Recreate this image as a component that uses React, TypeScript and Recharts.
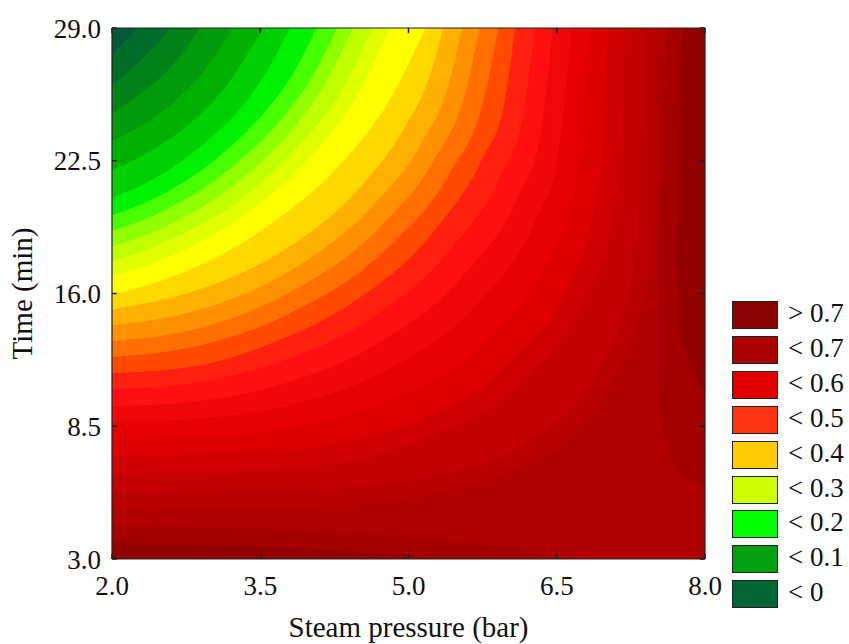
import React from "react";
import { ComposedChart, Area, XAxis, YAxis, ReferenceLine, Label } from "recharts";

const FONT = "'Liberation Serif', 'Times New Roman', serif";

// axis ticks (y is drawn on an evenly spaced coded axis 0..4)
const xTicks = [2, 3.5, 5, 6.5, 8];
const yTicks = [0, 1, 2, 3, 4];
const yTickLabels = ["3.0", "8.5", "16.0", "22.5", "29.0"];

// band in the top-left corner (lowest values)
const cornerColor = "#005A38";

// fill colour of the region below / right of each contour
const arcColors = [
  "#006C2A", "#008218", "#009A0A", "#00B200", "#00D000", "#00F200",
  "#48FF00", "#90FF00", "#C0FF00", "#E2FF00", "#FFFF00", "#FFD800",
  "#FFB000", "#FF9000", "#FF7000", "#FF4A00", "#FF2010", "#FF1010",
  "#F00808", "#E60000", "#DC0000", "#D00000", "#C40000", "#B80000",
  "#B00000",
];

// contour lines [steam pressure, coded time], read from left edge to top edge
const arcs: number[][][] = [
  [[2, 3.8], [2.08, 3.86], [2.16, 3.92], [2.25, 4]],
  [[2, 3.58], [2.18, 3.68], [2.38, 3.82], [2.59, 4]],
  [[2, 3.36], [2.28, 3.5], [2.59, 3.7], [2.89, 4]],
  [[2, 3.15], [2.31, 3.27], [2.62, 3.44], [2.92, 3.67], [3.22, 4]],
  [[2, 2.93], [2.38, 3.07], [2.77, 3.27], [3.15, 3.56], [3.53, 4]],
  [[2, 2.72], [2.46, 2.88], [2.9, 3.11], [3.36, 3.45], [3.58, 3.69], [3.8, 4]],
  [[2, 2.59], [2.52, 2.75], [3.03, 3.0], [3.56, 3.38], [3.82, 3.64], [4.07, 4]],
  [[2, 2.47], [2.57, 2.64], [3.14, 2.91], [3.71, 3.31], [4.0, 3.6], [4.28, 4]],
  [[2, 2.35], [2.61, 2.53], [3.22, 2.81], [3.83, 3.24], [4.13, 3.55], [4.44, 4]],
  [[2, 2.24], [2.66, 2.43], [3.32, 2.72], [3.97, 3.18], [4.31, 3.51], [4.63, 4]],
  [[2, 2.13], [2.71, 2.32], [3.41, 2.63], [4.11, 3.11], [4.47, 3.47], [4.81, 4]],
  [[2, 1.99], [2.79, 2.18], [3.58, 2.51], [4.38, 3.03], [4.81, 3.46], [5.17, 4]],
  [[2, 1.88], [2.84, 2.02], [3.68, 2.3], [4.51, 2.8], [4.96, 3.25], [5.22, 3.65], [5.35, 4]],
  [[2, 1.76], [2.89, 1.88], [3.8, 2.17], [4.61, 2.64], [5.12, 3.12], [5.42, 3.61], [5.54, 4]],
  [[2, 1.64], [2.89, 1.74], [3.8, 2.01], [4.71, 2.5], [5.27, 3.02], [5.57, 3.5], [5.72, 4]],
  [[2, 1.52], [2.89, 1.61], [3.8, 1.85], [4.81, 2.36], [5.42, 2.91], [5.77, 3.48], [5.91, 4]],
  [[2, 1.4], [2.82, 1.45], [3.63, 1.63], [4.45, 1.94], [5.26, 2.47], [5.75, 3.02], [5.96, 3.4], [6.08, 4]],
  [[2, 1.28], [2.86, 1.33], [3.71, 1.49], [4.57, 1.79], [5.42, 2.33], [5.94, 2.9], [6.15, 3.31], [6.28, 4]],
  [[2, 1.15], [2.89, 1.19], [3.78, 1.33], [4.68, 1.62], [5.57, 2.15], [6.11, 2.73], [6.33, 3.18], [6.46, 4]],
  [[2, 1.03], [2.93, 1.06], [3.86, 1.17], [4.79, 1.43], [5.72, 1.94], [6.28, 2.54], [6.51, 3.02], [6.65, 4]],
  [[2, 0.9], [2.97, 0.92], [3.93, 1.0], [4.9, 1.22], [5.87, 1.69], [6.45, 2.29], [6.69, 2.79], [6.84, 4]],
  [[2, 0.77], [3.75, 0.82], [5.01, 1.02], [6.01, 1.46], [6.61, 2.05], [6.86, 2.57], [6.96, 3.0], [7.01, 4]],
  [[2, 0.64], [3.82, 0.68], [5.11, 0.9], [6.15, 1.35], [6.78, 1.97], [7.04, 2.51], [7.14, 2.96], [7.19, 4]],
  [[2, 0.5], [3.88, 0.52], [5.22, 0.62], [6.3, 0.93], [6.94, 1.45], [7.21, 1.96], [7.32, 2.44], [7.37, 4]],
  [[2, 0.37], [3.93, 0.39], [5.31, 0.5], [6.41, 0.82], [7.07, 1.35], [7.35, 1.89], [7.46, 2.38], [7.51, 4]],
];

// darkest levels: a strip along the bottom and a strip along the right edge
const stripColors = ["#A40000", "#930000"];
const bottomStrips: number[][][] = [
  [[2, 0.25], [2.89, 0.24], [3.8, 0.22], [4.91, 0.17], [6.03, 0.09], [6.63, 0]],
  [[2, 0.12], [2.89, 0.11], [3.9, 0.08], [4.91, 0.03], [5.32, 0]],
];
// [pressure, low, high]
const rightStrips: number[][][] = [
  [[7.515, 1.43, 1.43], [7.525, 1.34, 2.1], [7.565, 0.98, 3.09], [7.626, 0.84, 4], [7.7, 0.69, 4], [7.85, 0.58, 4], [8, 0.54, 4]],
  [[7.707, 2.26, 2.26], [7.72, 1.96, 2.62], [7.737, 1.77, 3.09], [7.788, 1.6, 4], [7.808, 1.54, 4], [7.909, 1.37, 4], [8, 1.24, 4]],
];

const legendLabels = ["> 0.7", "< 0.7", "< 0.6", "< 0.5", "< 0.4", "< 0.3", "< 0.2", "< 0.1", "< 0"];
const legendColors = ["#8B0000", "#AA0000", "#E00000", "#FF3311", "#FFCC00", "#CCFF00", "#00FF00", "#00A010", "#006633"];

const toPts = (pts: number[][]) => pts.map(([x, u]) => ({ x, u }));
const toRange = (pts: number[][]) => pts.map(([x, lo, hi]) => ({ x, r: [lo, hi] }));

const areaProps = {
  type: "monotone" as const,
  stroke: "none",
  fillOpacity: 1,
  isAnimationActive: false,
  dot: false,
  activeDot: false,
};

const FRAME = "#222";
const tickStyle = { fontFamily: FONT, fontSize: 27, fill: "#111" };

export default function App() {
  return (
    <div style={{ position: "absolute", left: 0, top: 0, width: 849, height: 644, background: "#fff" }}>
      <ComposedChart width={849} height={644} margin={{ top: 28, right: 144, bottom: 0, left: 0 }}>
        <XAxis
          type="number"
          dataKey="x"
          domain={[2, 8]}
          ticks={xTicks}
          interval={0}
          allowDataOverflow
          height={85}
          tickLine={false}
          axisLine={false}
          tickSize={0}
          tickMargin={17}
          tick={tickStyle}
          tickFormatter={(v: number) => v.toFixed(1)}
        >
          <Label
            content={({ viewBox }: any) => (
              <text
                x={viewBox.x + viewBox.width / 2}
                y={637}
                textAnchor="middle"
                fontFamily={FONT}
                fontSize={29}
                fill="#111"
              >
                Steam pressure (bar)
              </text>
            )}
          />
        </XAxis>
        <YAxis
          type="number"
          domain={[0, 4]}
          ticks={yTicks}
          interval={0}
          allowDataOverflow
          width={112}
          tickLine={false}
          axisLine={false}
          tickSize={0}
          tickMargin={11}
          tick={tickStyle}
          tickFormatter={(v: number) => yTickLabels[v]}
        >
          <Label
            content={({ viewBox }: any) => {
              const cx = 32;
              const cy = viewBox.y + viewBox.height / 2;
              return (
                <text
                  x={cx}
                  y={cy}
                  transform={`rotate(-90, ${cx}, ${cy})`}
                  textAnchor="middle"
                  fontFamily={FONT}
                  fontSize={29}
                  fill="#111"
                >
                  Time (min)
                </text>
              );
            }}
          />
        </YAxis>

        <Area {...areaProps} data={toPts([[2, 4], [8, 4]])} dataKey="u" baseValue={0} fill={cornerColor} />
        {arcs.map((pts, i) => [
          <Area key={`a${i}`} {...areaProps} data={toPts(pts)} dataKey="u" baseValue={0} fill={arcColors[i]} />,
          <Area
            key={`r${i}`}
            {...areaProps}
            data={toPts([[pts[pts.length - 1][0], 4], [8, 4]])}
            dataKey="u"
            baseValue={0}
            fill={arcColors[i]}
          />,
        ])}
        {stripColors.map((c, i) => [
          <Area key={`b${i}`} {...areaProps} data={toPts(bottomStrips[i])} dataKey="u" baseValue={0} fill={c} />,
          <Area key={`s${i}`} {...areaProps} data={toRange(rightStrips[i])} dataKey="r" fill={c} />,
        ])}

        {xTicks.map((t) => [
          <ReferenceLine key={`xb${t}`} segment={[{ x: t, y: 0 }, { x: t, y: 0.04 }]} stroke={FRAME} strokeWidth={1.5} />,
          <ReferenceLine key={`xt${t}`} segment={[{ x: t, y: 4 }, { x: t, y: 3.96 }]} stroke={FRAME} strokeWidth={1.5} />,
        ])}
        {yTicks.map((t) => [
          <ReferenceLine key={`yl${t}`} segment={[{ x: 2, y: t }, { x: 2.05, y: t }]} stroke={FRAME} strokeWidth={1.5} />,
          <ReferenceLine key={`yr${t}`} segment={[{ x: 8, y: t }, { x: 7.95, y: t }]} stroke={FRAME} strokeWidth={1.5} />,
        ])}
        <ReferenceLine x={2} stroke={FRAME} strokeWidth={1.2} />
        <ReferenceLine x={8} stroke={FRAME} strokeWidth={1.2} />
        <ReferenceLine y={0} stroke={FRAME} strokeWidth={1.2} />
        <ReferenceLine y={4} stroke={FRAME} strokeWidth={1.2} />
      </ComposedChart>

      <div style={{ position: "absolute", left: 732, top: 301 }}>
        {legendLabels.map((lab, i) => (
          <div key={lab} style={{ position: "absolute", left: 0, top: i * 34.9, width: 120, height: 28 }}>
            <div
              style={{
                position: "absolute",
                left: 0,
                top: 0,
                width: 46,
                height: 28,
                background: legendColors[i],
                border: "1px solid #222",
                boxSizing: "border-box",
              }}
            />
            <div
              style={{
                position: "absolute",
                left: 56,
                top: -2,
                fontFamily: FONT,
                fontSize: 27,
                lineHeight: "28px",
                color: "#111",
                whiteSpace: "nowrap",
              }}
            >
              {lab}
            </div>
          </div>
        ))}
      </div>
    </div>
  );
}
